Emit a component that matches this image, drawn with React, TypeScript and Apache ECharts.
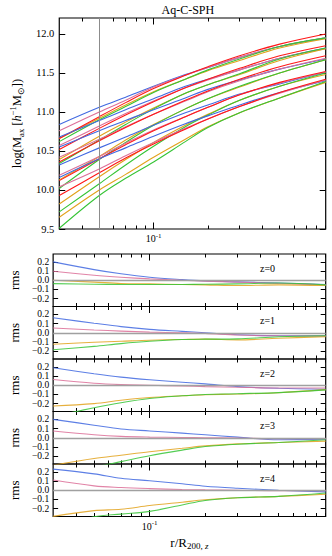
import React, { useEffect, useRef } from "react";
import * as echarts from "echarts";

// radii r/R200,z at which profiles are sampled
const radii = [0.03, 0.05, 0.07, 0.1, 0.15, 0.2, 0.3, 0.5, 0.9];
const redshiftLabels = ["z=0", "z=1", "z=2", "z=3", "z=4"];

// top panel: log(M) profiles, one row per redshift group
const massRed = [
  [10.66, 10.94, 11.12, 11.30, 11.47, 11.58, 11.72, 11.87, 12.00],
  [10.52, 10.79, 10.96, 11.13, 11.31, 11.42, 11.56, 11.72, 11.85],
  [10.36, 10.63, 10.80, 10.97, 11.15, 11.27, 11.42, 11.58, 11.72],
  [10.12, 10.40, 10.58, 10.76, 10.94, 11.06, 11.22, 11.38, 11.52],
  [9.93, 10.22, 10.41, 10.59, 10.78, 10.91, 11.07, 11.25, 11.42],
];
const massBlue = [
  [10.84, 11.06, 11.19, 11.33, 11.48, 11.57, 11.70, 11.84, 11.95],
  [10.68, 10.89, 11.03, 11.17, 11.33, 11.42, 11.54, 11.69, 11.82],
  [10.55, 10.76, 10.89, 11.03, 11.18, 11.29, 11.41, 11.55, 11.68],
  [10.32, 10.54, 10.68, 10.83, 10.99, 11.09, 11.23, 11.36, 11.51],
  [10.16, 10.40, 10.54, 10.69, 10.85, 10.95, 11.09, 11.25, 11.40],
];
const massPink = [
  [10.76, 11.00, 11.15, 11.32, 11.47, 11.57, 11.70, 11.84, 11.95],
  [10.57, 10.82, 10.98, 11.14, 11.31, 11.41, 11.54, 11.69, 11.81],
  [10.42, 10.65, 10.81, 10.97, 11.14, 11.26, 11.40, 11.55, 11.69],
  [10.19, 10.43, 10.60, 10.77, 10.94, 11.06, 11.22, 11.37, 11.51],
  [10.04, 10.27, 10.44, 10.61, 10.79, 10.91, 11.07, 11.24, 11.41],
];
const massOrange = [
  [10.66, 10.92, 11.09, 11.26, 11.42, 11.53, 11.66, 11.82, 11.94],
  [10.39, 10.69, 10.87, 11.05, 11.24, 11.35, 11.48, 11.66, 11.81],
  [10.13, 10.43, 10.64, 10.84, 11.04, 11.17, 11.32, 11.50, 11.67],
  [9.82, 10.17, 10.39, 10.61, 10.83, 10.97, 11.15, 11.33, 11.48],
  [9.65, 10.00, 10.20, 10.42, 10.65, 10.81, 10.99, 11.18, 11.38],
];
const massGreen = [
  [10.62, 10.90, 11.07, 11.25, 11.42, 11.54, 11.68, 11.84, 11.95],
  [10.34, 10.64, 10.84, 11.04, 11.24, 11.35, 11.49, 11.68, 11.82],
  [10.02, 10.39, 10.61, 10.83, 11.04, 11.17, 11.33, 11.50, 11.67],
  [9.72, 10.08, 10.32, 10.56, 10.81, 10.96, 11.15, 11.33, 11.50],
  [9.51, 9.93, 10.15, 10.36, 10.62, 10.80, 10.99, 11.18, 11.39],
];

// lower panels: rms per redshift
const rmsBlue = [
  [0.20, 0.116, 0.07, 0.033, 0.007, -0.007, -0.018, -0.03, -0.047],
  [0.163, 0.104, 0.067, 0.037, 0.015, 0.0, -0.022, -0.033, -0.033],
  [0.19, 0.126, 0.089, 0.06, 0.033, 0.015, -0.015, -0.033, -0.044],
  [0.20, 0.137, 0.096, 0.074, 0.05, 0.033, 0.007, -0.022, -0.015],
  [0.23, 0.178, 0.13, 0.104, 0.07, 0.044, 0.022, 0.0, -0.018],
];
const rmsPink = [
  [0.098, 0.055, 0.033, 0.015, 0.0, -0.01, -0.02, -0.035, -0.05],
  [0.052, 0.03, 0.018, 0.007, 0.0, -0.007, -0.025, -0.033, -0.037],
  [0.063, 0.022, 0.007, 0.0, -0.008, -0.015, -0.022, -0.03, -0.03],
  [0.074, 0.033, 0.015, 0.007, 0.003, 0.0, -0.003, -0.01, -0.01],
  [0.111, 0.048, 0.03, 0.018, 0.008, 0.004, 0.0, -0.006, -0.006],
];
const rmsOrange = [
  [0.0, -0.02, -0.035, -0.04, -0.046, -0.05, -0.058, -0.05, -0.058],
  [-0.126, -0.104, -0.093, -0.081, -0.074, -0.07, -0.078, -0.06, -0.044],
  [-0.226, -0.2, -0.163, -0.133, -0.115, -0.104, -0.096, -0.081, -0.048],
  [-0.30, -0.226, -0.19, -0.152, -0.115, -0.089, -0.067, -0.052, -0.037],
  [-0.285, -0.222, -0.207, -0.167, -0.13, -0.104, -0.081, -0.067, -0.044],
];
const rmsGreen = [
  [-0.037, -0.044, -0.046, -0.047, -0.046, -0.044, -0.04, -0.03, -0.05],
  [-0.185, -0.148, -0.118, -0.093, -0.074, -0.07, -0.067, -0.044, -0.033],
  [-0.34, -0.245, -0.19, -0.144, -0.115, -0.1, -0.092, -0.08, -0.05],
  [-0.40, -0.32, -0.26, -0.196, -0.135, -0.096, -0.07, -0.052, -0.022],
  [-0.42, -0.29, -0.26, -0.23, -0.16, -0.111, -0.081, -0.067, -0.03],
];

const xRange = [0.03, 0.9];
const minorTickRadii = [0.04, 0.05, 0.06, 0.07, 0.08, 0.09, 0.2, 0.3, 0.4, 0.5, 0.6, 0.7, 0.8, 0.9];
const majorTickRadii = [0.1];
const massRange = [9.5, 12.205];
const massTicks = [9.5, 10.0, 10.5, 11.0, 11.5, 12.0];
const rmsRange = [-0.286, 0.286];
const rmsTicks = [-0.2, -0.1, 0.0, 0.1, 0.2];
const rmsLabelsEven = [-0.2, 0.0, 0.2];
const rmsLabelsOdd = [-0.1, 0.1];
const cutRadius = 0.05;

const FONT = "Liberation Serif";
const COL = {
  blue: "#4169e1",
  pink: "#dc6f98",
  red: "#ff1717",
  orange: "#e2a21c",
  green: "#36c436",
};

export default function App() {
  const ref = useRef<HTMLDivElement>(null);
  useEffect(() => {
    const chart = echarts.init(ref.current!, null, { renderer: "svg" });
    const lg = Math.log10;
    const L = 50;
    const W = 275.7;
    const PH = 52.5;
    const PT = 254;
    const grids: any[] = [
      { left: L, top: 18, width: W, height: 211, show: true, borderColor: "#000", borderWidth: 1.2, backgroundColor: "transparent" },
    ];
    for (let i = 0; i < 5; i++) {
      grids.push({ left: L, top: PT + i * PH, width: W, height: PH, show: true, borderColor: "#000", borderWidth: 1.2, backgroundColor: "transparent" });
    }

    const supRich = {
      n: { fontFamily: FONT, fontSize: 10, color: "#000", lineHeight: 13 },
      sup: { fontFamily: FONT, fontSize: 7, color: "#000", verticalAlign: "top", lineHeight: 8 },
    };

    const xAxes: any[] = [];
    grids.forEach((_, gi) => {
      const showLabel = gi === 0 || gi === 5;
      const base = {
        type: "value",
        gridIndex: gi,
        min: lg(xRange[0]),
        max: lg(xRange[1]),
        splitLine: { show: false },
        axisLine: { show: false, onZero: false },
      };
      const minorTick = { show: true, inside: true, length: 3.5, customValues: minorTickRadii.map(lg), lineStyle: { color: "#000", width: 1 } };
      const majorTick = { show: true, inside: true, length: 6.5, customValues: majorTickRadii.map(lg), lineStyle: { color: "#000", width: 1 } };
      xAxes.push({
        ...base,
        position: "bottom",
        axisTick: minorTick,
        axisLabel: {
          show: showLabel,
          customValues: majorTickRadii.map(lg),
          formatter: () => "{n|10}{sup|-1}",
          rich: supRich,
          margin: 3,
        },
        name: gi === 5 ? "{n|r/R}{sub|200, }{subi|z}" : "",
        nameLocation: "middle",
        nameGap: 17,
        nameTextStyle: {
          rich: {
            n: { fontFamily: FONT, fontSize: 13, color: "#000", lineHeight: 17 },
            sub: { fontFamily: FONT, fontSize: 9, color: "#000", verticalAlign: "bottom", lineHeight: 10 },
            subi: { fontFamily: FONT, fontSize: 9, fontStyle: "italic", color: "#000", verticalAlign: "bottom", lineHeight: 10 },
          },
        },
      });
      xAxes.push({ ...base, position: "top", axisTick: minorTick, axisLabel: { show: false } });
      xAxes.push({ ...base, position: "bottom", axisTick: majorTick, axisLabel: { show: false } });
      xAxes.push({ ...base, position: "top", axisTick: majorTick, axisLabel: { show: false } });
    });

    const yAxes: any[] = [];
    // top panel
    const massTick = { show: true, inside: true, length: 6, customValues: massTicks, lineStyle: { color: "#000", width: 1 } };
    yAxes.push({
      type: "value",
      gridIndex: 0,
      position: "left",
      min: massRange[0],
      max: massRange[1],
      splitLine: { show: false },
      axisLine: { show: false, onZero: false },
      axisTick: massTick,
      axisLabel: {
        customValues: massTicks,
        formatter: (v: number) => v.toFixed(1),
        fontFamily: FONT,
        fontSize: 10.5,
        color: "#000",
        margin: 5,
        showMinLabel: true,
        showMaxLabel: true,
        hideOverlap: false,
      },
      name: "{n|log(M}{sub|ax}{n| [}{it|h}{sup|−1}{n|M}{sub|⊙}{n|])}",
      nameLocation: "middle",
      nameRotate: 90,
      nameGap: 30,
      nameTextStyle: {
        rich: {
          n: { fontFamily: FONT, fontSize: 12.5, color: "#000", lineHeight: 17 },
          it: { fontFamily: FONT, fontSize: 12.5, fontStyle: "italic", color: "#000", lineHeight: 17 },
          sub: { fontFamily: FONT, fontSize: 8.5, color: "#000", verticalAlign: "bottom", lineHeight: 10 },
          sup: { fontFamily: FONT, fontSize: 8.5, color: "#000", verticalAlign: "top", lineHeight: 10 },
        },
      },
    });
    yAxes.push({
      type: "value",
      gridIndex: 0,
      position: "right",
      min: massRange[0],
      max: massRange[1],
      splitLine: { show: false },
      axisLine: { show: false, onZero: false },
      axisTick: massTick,
      axisLabel: { show: false },
    });
    const fmtRms = (v: number) => {
      if (Math.abs(v) < 1e-9) return "0.0";
      return v < 0 ? "\u2212" + Math.abs(v).toFixed(1) : v.toFixed(1);
    };
    const rmsTick = { show: true, inside: true, length: 5, customValues: rmsTicks, lineStyle: { color: "#000", width: 1 } };
    const rmsLabel = (vals: number[]) => ({
      customValues: vals,
      formatter: fmtRms,
      fontFamily: FONT,
      fontSize: 9.5,
      color: "#000",
      margin: 4,
      showMinLabel: true,
      showMaxLabel: true,
      hideOverlap: false,
    });
    // per rms panel: left (ticks + even labels + name), left (odd labels), right (ticks)
    for (let i = 0; i < 5; i++) {
      const base = {
        type: "value",
        gridIndex: i + 1,
        min: rmsRange[0],
        max: rmsRange[1],
        splitLine: { show: false },
        axisLine: { show: false, onZero: false },
      };
      yAxes.push({
        ...base,
        position: "left",
        axisTick: rmsTick,
        axisLabel: rmsLabel(rmsLabelsEven),
        name: "rms",
        nameLocation: "middle",
        nameRotate: 90,
        nameGap: 28,
        nameTextStyle: { fontFamily: FONT, fontSize: 13, color: "#000" },
      });
      yAxes.push({
        ...base,
        position: "left",
        axisTick: { show: false },
        axisLabel: rmsLabel(rmsLabelsOdd),
      });
      yAxes.push({
        ...base,
        position: "right",
        axisTick: rmsTick,
        axisLabel: { show: false },
      });
    }

    const toPts = (ys: number[]) => radii.map((r, i) => [lg(r), ys[i]]);
    const lineSeries = (ys: number[], color: string, xi: number, yi: number, extra: any = {}) => ({
      type: "line",
      xAxisIndex: xi,
      yAxisIndex: yi,
      data: toPts(ys),
      smooth: 0.35,
      symbol: "none",
      clip: true,
      silent: true,
      lineStyle: { color, width: 1.1 },
      ...extra,
    });

    const series: any[] = [];
    for (let g = 0; g < 5; g++) {
      series.push(lineSeries(massBlue[g], COL.blue, 0, 0));
      series.push(lineSeries(massPink[g], COL.pink, 0, 0));
      series.push(lineSeries(massOrange[g], COL.orange, 0, 0));
      series.push(lineSeries(massGreen[g], COL.green, 0, 0));
      series.push(lineSeries(massRed[g], COL.red, 0, 0));
    }
    series[series.length - 1].markLine = {
      silent: true,
      symbol: "none",
      label: { show: false },
      lineStyle: { color: "#8c8c8c", width: 1, type: "solid" },
      data: [{ xAxis: lg(cutRadius) }],
    };

    for (let z = 0; z < 5; z++) {
      const xi = 4 * (z + 1);
      const yi = 2 + 3 * z;
      const op = { opacity: 0.85 };
      series.push(
        lineSeries(rmsBlue[z], COL.blue, xi, yi, {
          lineStyle: { color: COL.blue, width: 1.1, ...op },
          markLine: {
            silent: true,
            symbol: "none",
            label: { show: false },
            lineStyle: { color: "#a0a0a0", width: 1.4, type: "solid" },
            data: [{ yAxis: 0 }],
          },
        })
      );
      series.push(lineSeries(rmsPink[z], COL.pink, xi, yi, { lineStyle: { color: COL.pink, width: 1.1, ...op } }));
      series.push(lineSeries(rmsOrange[z], COL.orange, xi, yi, { lineStyle: { color: COL.orange, width: 1.1, ...op } }));
      series.push(lineSeries(rmsGreen[z], COL.green, xi, yi, { lineStyle: { color: COL.green, width: 1.1, ...op } }));
    }

    const graphics: any[] = [
      {
        type: "text",
        x: L + W / 2,
        y: 10,
        style: { text: "Aq-C-SPH", align: "center", verticalAlign: "middle", fontFamily: FONT, fontSize: 12, fill: "#000" },
      },
    ];
    redshiftLabels.forEach((t, i) => {
      graphics.push({
        type: "text",
        x: 260,
        y: PT + i * PH + 14,
        style: { text: t, align: "left", verticalAlign: "middle", fontFamily: FONT, fontSize: 10, fill: "#000" },
      });
    });

    chart.setOption({
      animation: false,
      backgroundColor: "#fff",
      grid: grids,
      xAxis: xAxes,
      yAxis: yAxes,
      series,
      graphic: graphics,
    });
    return () => chart.dispose();
  }, []);
  return <div ref={ref} style={{ position: "absolute", left: 0, top: 0, width: 332, height: 556 }} />;
}
